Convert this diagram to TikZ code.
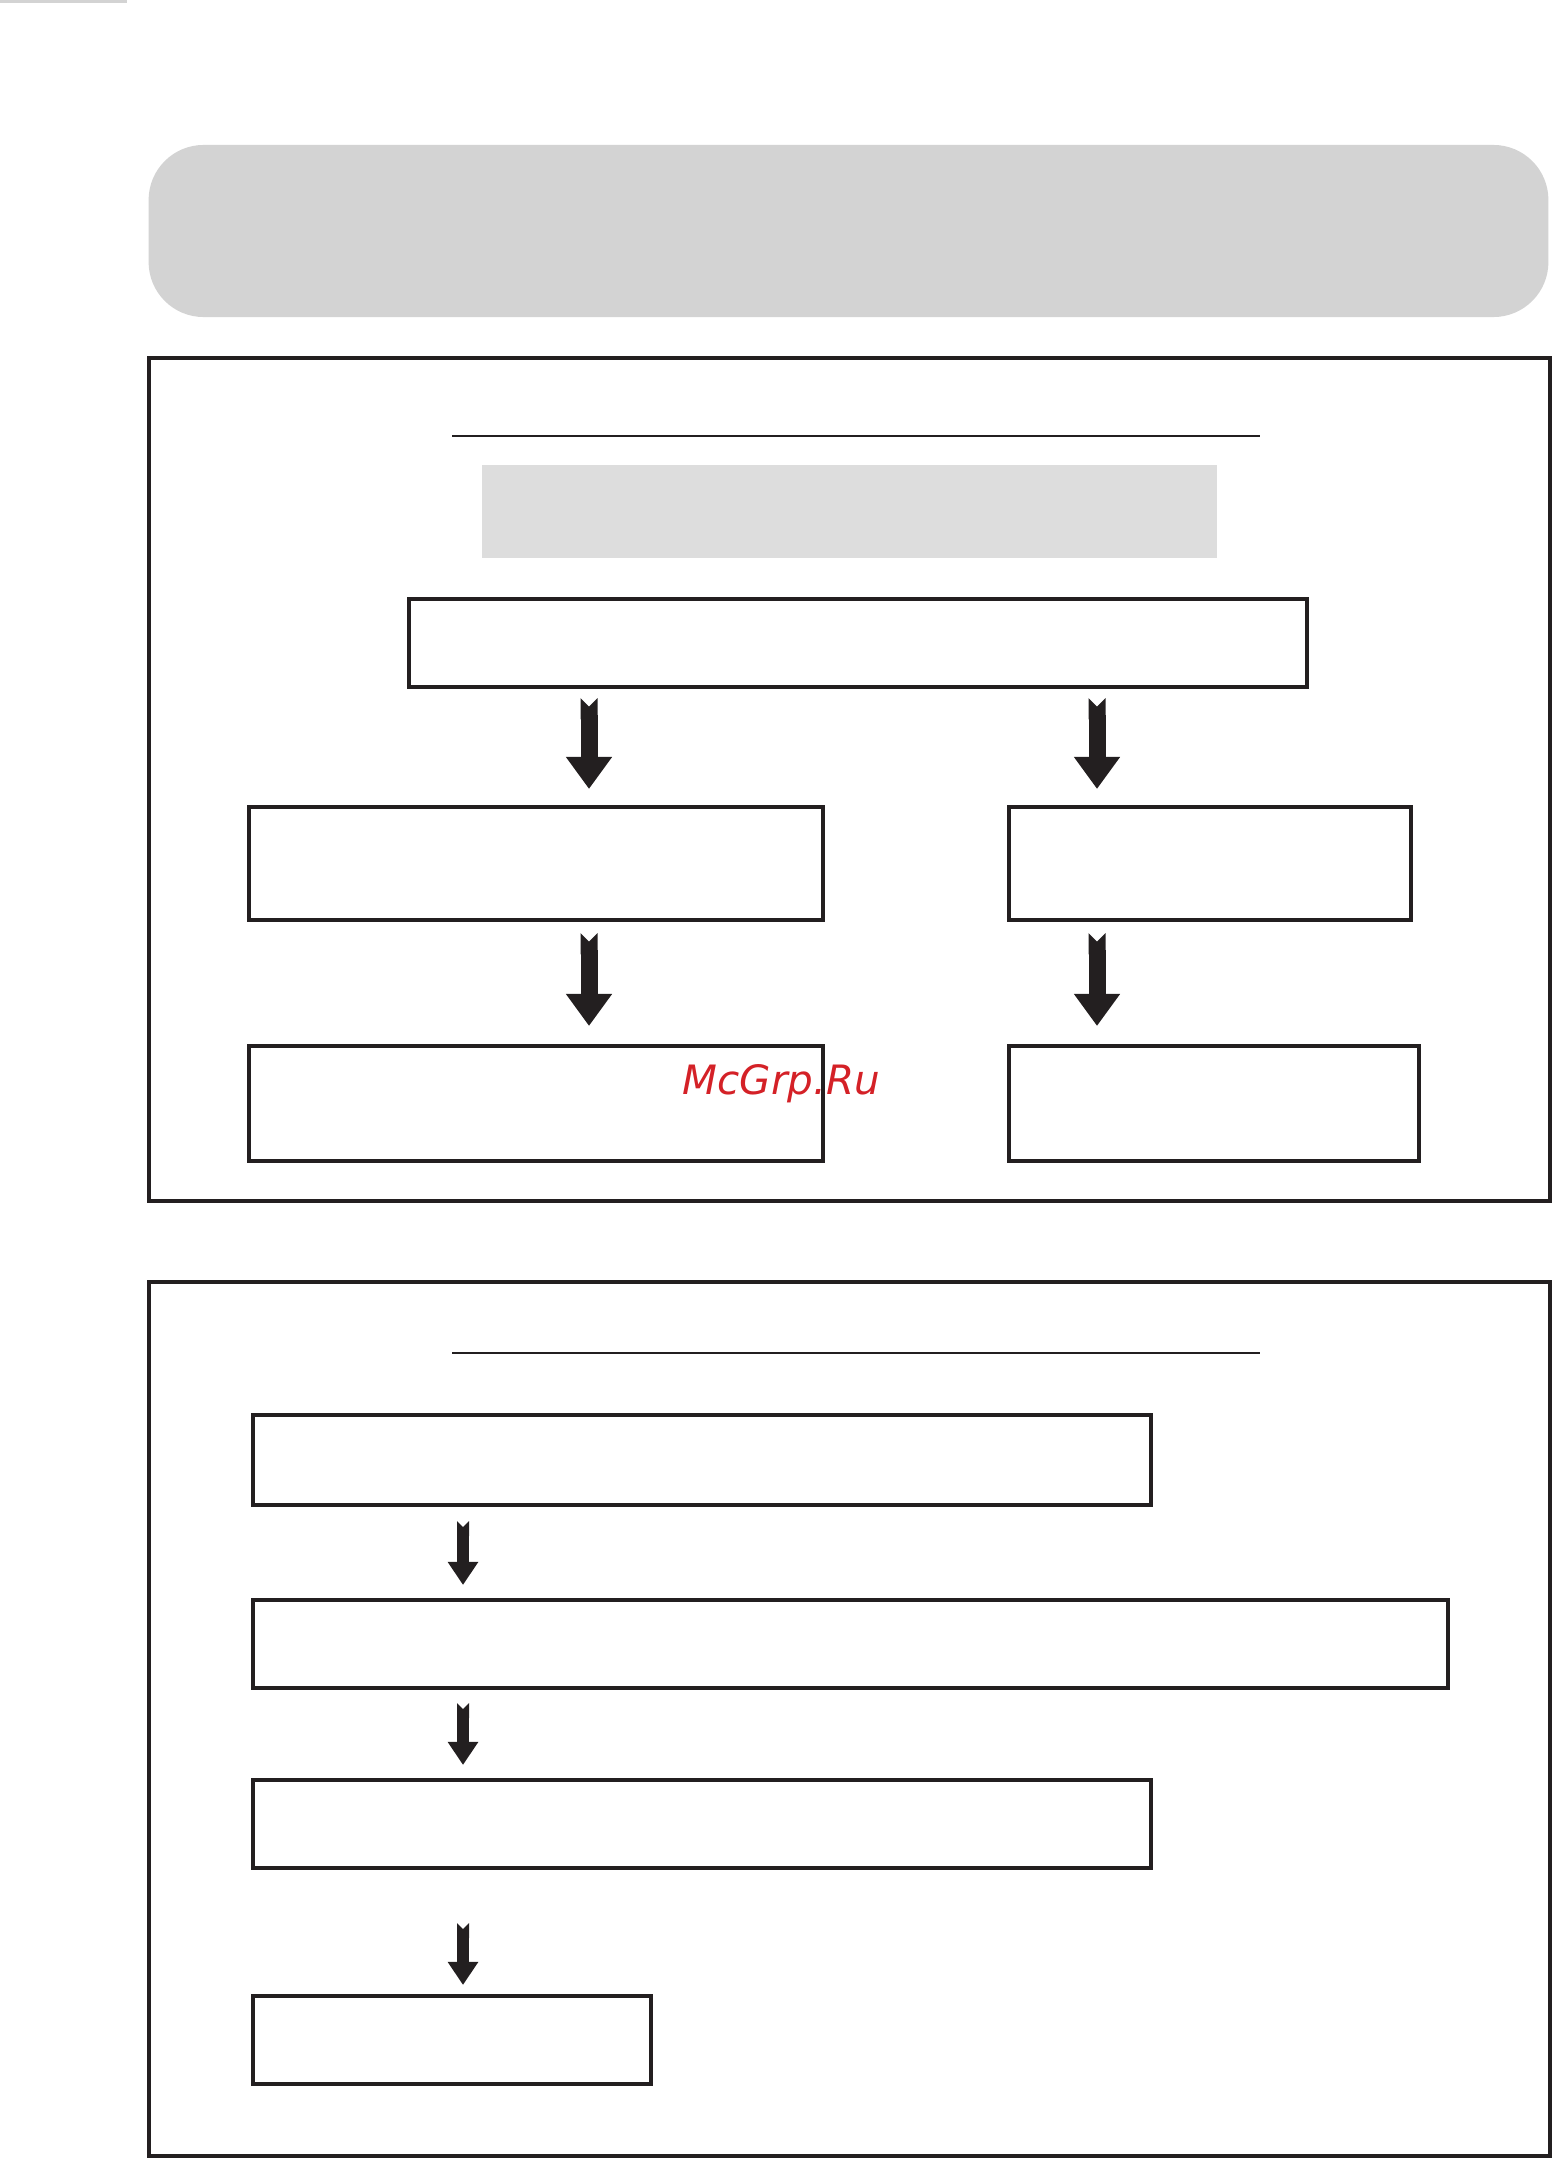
\documentclass[tikz,border=0pt]{standalone}
\usepackage{fontspec}
\usepackage{tikz}
\usetikzlibrary{arrows.meta,positioning}
\usepackage{xcolor}
\definecolor{inkdark}{RGB}{35,31,32}
\definecolor{titlegray}{RGB}{211,211,211}
\definecolor{shadegray}{RGB}{221,221,221}
\definecolor{markred}{RGB}{212,33,39}
\newfontfamily\markfont{DejaVu Sans}

\begin{document}
\begin{tikzpicture}[x=0.01cm,y=-0.01cm,
  every node/.style={inner sep=0pt,outer sep=0pt},
  framebox/.style={draw=inkdark,line width=1.15pt},
  stepbox/.style={draw=inkdark,line width=1.15pt},
  bigarrow/.style={inkdark,line width=0.17cm,{Triangle Cap[reversed]}-{Triangle[width=0.44cm,length=0.32cm]}},
  smallarrow/.style={inkdark,line width=0.12cm,{Triangle Cap[reversed]}-{Triangle[width=0.29cm,length=0.23cm]}}]
\useasboundingbox (0,0) rectangle (1553,2158);
\fill[titlegray] (0,0) rectangle (127,3);
% heading bar
\node[fill=titlegray,rounded corners=0.55cm,minimum width=13.99cm,minimum height=1.72cm] (title) at (848.5,231) {};
% upper panel
\node[framebox,minimum width=14.01cm,minimum height=8.43cm] (panelA) at (849.5,779.5) {};
\draw[inkdark,line width=0.6pt] (452,436) -- (1260,436);
\node[fill=shadegray,minimum width=7.35cm,minimum height=0.93cm] (shadeA) at (849.5,511.5) {};
\node[stepbox,minimum width=8.98cm,minimum height=0.88cm] (boxA)  at (858,643)    {};
\node[stepbox,minimum width=5.74cm,minimum height=1.13cm] (boxB1) at (536,863.5)  {};
\node[stepbox,minimum width=4.02cm,minimum height=1.13cm] (boxB2) at (1210,863.5) {};
\node[stepbox,minimum width=5.74cm,minimum height=1.15cm] (boxC1) at (536,1103.5) {};
\node[stepbox,minimum width=4.10cm,minimum height=1.15cm] (boxC2) at (1214,1103.5){};
\coordinate (colL) at (589,0);
\coordinate (colR) at (1097,0);
\draw[bigarrow,shorten <=0.11cm,shorten >=0.18cm] (boxA.south -| colL) -- (boxB1.north -| colL);
\draw[bigarrow,shorten <=0.11cm,shorten >=0.18cm] (boxA.south -| colR) -- (boxB2.north -| colR);
\draw[bigarrow,shorten <=0.13cm,shorten >=0.20cm] (boxB1.south -| colL) -- (boxC1.north -| colL);
\draw[bigarrow,shorten <=0.13cm,shorten >=0.20cm] (boxB2.south -| colR) -- (boxC2.north -| colR);
% lower panel
\node[framebox,minimum width=14.01cm,minimum height=8.74cm] (panelB) at (849.5,1719) {};
\draw[inkdark,line width=0.6pt] (452,1353) -- (1260,1353);
\node[stepbox,minimum width=8.98cm,minimum height=0.90cm]  (boxD1) at (702,1460)   {};
\node[stepbox,minimum width=11.95cm,minimum height=0.88cm] (boxD2) at (850.5,1644) {};
\node[stepbox,minimum width=8.98cm,minimum height=0.88cm]  (boxD3) at (702,1824)   {};
\node[stepbox,minimum width=3.98cm,minimum height=0.88cm]  (boxD4) at (452,2040)   {};
\coordinate (colD) at (463,0);
\draw[smallarrow,shorten <=0.16cm,shorten >=0.15cm] (boxD1.south -| colD) -- (boxD2.north -| colD);
\draw[smallarrow,shorten <=0.15cm,shorten >=0.15cm] (boxD2.south -| colD) -- (boxD3.north -| colD);
\draw[smallarrow,shorten <=0.55cm,shorten >=0.11cm] (boxD3.south -| colD) -- (boxD4.north -| colD);
% watermark
\node[anchor=base,text=markred,font=\markfont\itshape\fontsize{11.5}{12}\selectfont] (mark) at (781.5,1094) {McGrp.Ru};
\end{tikzpicture}
\end{document}
